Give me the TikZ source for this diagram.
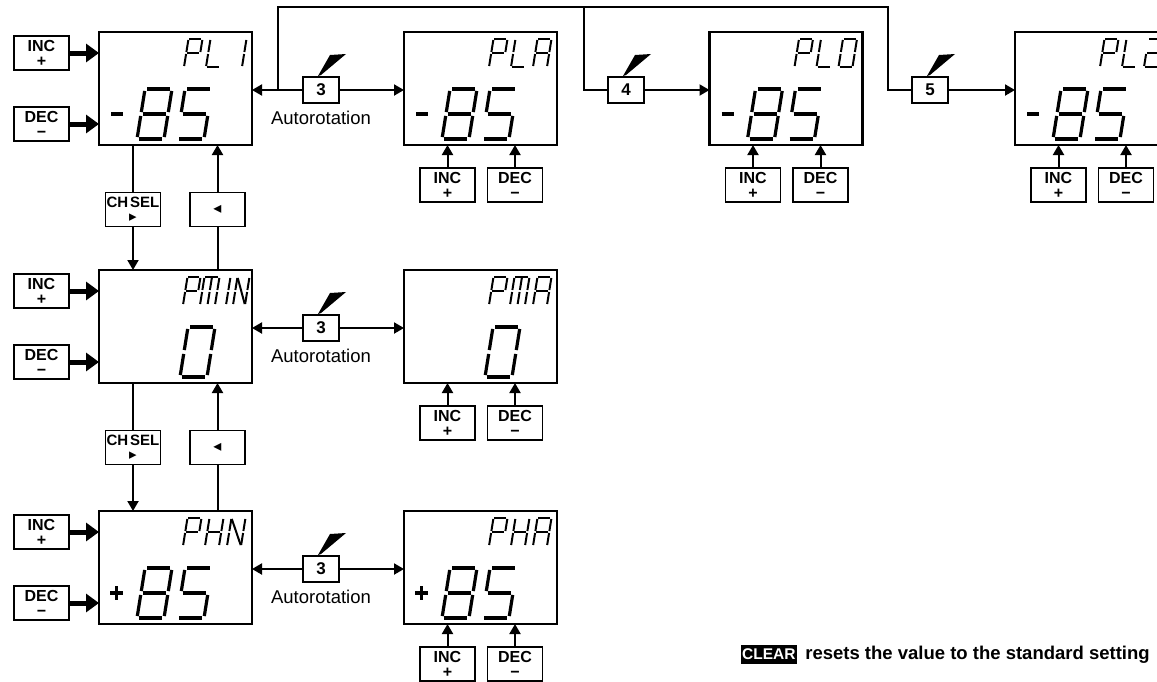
\documentclass[tikz,border=0pt]{standalone}
\usepackage{fontspec}
\setmainfont{Liberation Sans}
\newfontfamily\symfont{DejaVu Sans}
\usetikzlibrary{calc,arrows.meta,positioning}

% seven segment glyphs as lists of segment ends
\def\chEight{tl/tr,tr/mr,mr/br,bl/br,ml/bl,tl/ml,ml/mr}
\def\chFive{tl/tr,tl/ml,ml/mr,mr/br,bl/br}
\def\chZero{tl/tr,tr/mr,mr/br,bl/br,ml/bl,tl/ml}
\def\chOne{tr/mr,mr/br}
\def\chTwo{tl/tr,tr/mr,ml/mr,ml/bl,bl/br}
\def\chP{tl/tr,tr/mr,ml/mr,tl/ml,ml/bl}
\def\chL{tl/ml,ml/bl,bl/br}
\def\chA{tl/tr,tr/mr,mr/br,ml/mr,tl/ml,ml/bl}
\def\chH{tr/mr,mr/br,ml/mr,tl/ml,ml/bl}
\def\chM{tl/tr,tr/mr,mr/br,tl/ml,ml/bl,tm/mm,mm/bm}
\def\chI{tm/mm,mm/bm}
\def\chN{tl/ml,ml/bl,tr/mr,mr/br,tl/br}

\newcommand\segch[5]{% style, bottom left, width, height, segments
  \begin{scope}[shift={#2}, xslant=0.16]
    \coordinate (tl) at (0,-#4);   \coordinate (tm) at (#3/2,-#4);   \coordinate (tr) at (#3,-#4);
    \coordinate (ml) at (0,-#4/2); \coordinate (mm) at (#3/2,-#4/2); \coordinate (mr) at (#3,-#4/2);
    \coordinate (bl) at (0,0);     \coordinate (bm) at (#3/2,0);     \coordinate (br) at (#3,0);
    \edef\seglist{#5}
    \foreach \p/\q in \seglist {\draw[#1] (\p) -- (\q);}
  \end{scope}}
\newcommand\lcdtitle[2]{%
  \foreach \xx/\ww/\cc in {#2} {\segch{smallseg}{($(#1.north west)+(\xx,35)$)}{\ww}{28}{\cc}}}
\newcommand\lcdvalue[2]{%
  \foreach \xx/\cc in {#2} {\segch{bigseg}{($(#1.north west)+(\xx,107)$)}{27}{50}{\cc}}}
\newcommand\pen[1]{%
  \fill ($(#1.north)+(-3,-1)$) -- ++(12,-21) -- ++(16,-1) -- ($(#1.north)+(0,-2)$) -- cycle;}

\begin{document}
\begin{tikzpicture}[x=1pt,y=-1pt,
  lcd/.style={draw, line width=2.2pt, minimum width=153pt, minimum height=113pt, inner sep=0pt, outer sep=0pt},
  btn/.style={draw, line width=1.1pt, fill=white, minimum width=55pt, minimum height=34pt, inner sep=0pt,
    outer sep=0pt, align=center, font=\bfseries\fontsize{16}{15}\selectfont},
  keybox/.style={draw, line width=2.4pt, fill=white, minimum width=36pt, minimum height=26pt, inner sep=0pt,
    outer sep=0pt, font=\bfseries\fontsize{17}{17}\selectfont},
  conn/.style={line width=2pt},
  arr/.style={conn, -{Triangle[length=10pt,width=11pt]}},
  fatarr/.style={line width=5pt, -{Triangle[length=13pt,width=18pt]}},
  bigseg/.style={line width=3.2pt, shorten <=2pt, shorten >=2pt},
  smallseg/.style={line width=2pt, shorten <=1pt, shorten >=1pt},
  signseg/.style={line width=3.6pt}]
\useasboundingbox (0,0) rectangle (1157,681);
\clip (0,0) rectangle (1157,681);

% displays
\node[lcd] (pl1)  at (175.5,88.5) {};
\node[lcd] (pla)  at (480.5,88.5) {};
\node[lcd] (plo)  at (786,88.5) {};
\node[lcd] (pl2)  at (1091.5,88.5) {};
\node[lcd] (pmin) at (175.5,326.5) {};
\node[lcd] (pma)  at (480.5,326.5) {};
\node[lcd] (phn)  at (175.5,567.5) {};
\node[lcd] (pha)  at (480.5,567.5) {};

\lcdtitle{pl1}{85/14/\chP,107/14/\chL,129/14/\chOne}
\lcdtitle{pla}{85/14/\chP,107/14/\chL,129/14/\chA}
\lcdtitle{plo}{85/14/\chP,107/14/\chL,129/14/\chZero}
\lcdtitle{pl2}{85/14/\chP,107/14/\chL,129/14/\chTwo}
\lcdtitle{pmin}{84/13/\chP,101/15/\chM,127/0/\chI,134/12/\chN}
\lcdtitle{pma}{85/14/\chP,106/15/\chM,129/14/\chA}
\lcdtitle{phn}{84/14/\chP,106/14/\chH,128/14/\chN}
\lcdtitle{pha}{85/14/\chP,107/14/\chH,129/14/\chA}

\foreach \d in {pl1,pla,plo,pl2,phn,pha} {\lcdvalue{\d}{38/\chEight,78/\chFive}}
\foreach \d in {pmin,pma} {\lcdvalue{\d}{81/\chZero}}
\foreach \d in {pl1,pla,plo,pl2} \draw[signseg] ($(\d.north west)+(12,82)$) -- ++(12,0);
\foreach \d in {phn,pha} {
  \draw[signseg] ($(\d.north west)+(11,82)$) -- ++(13,0);
  \draw[signseg] ($(\d.north west)+(17.5,75)$) -- ++(0,14);
}

% INC / DEC keys
\foreach \d in {pl1,pmin,phn} {
  \node[btn] (\d inc) at ($(\d.north west)+(-57.5,21)$) {INC\\+};
  \node[btn] (\d dec) at ($(\d.north west)+(-57.5,92)$) {DEC\\−};
  \draw[fatarr] (\d inc) -- (\d inc -| \d.west);
  \draw[fatarr] (\d dec) -- (\d dec -| \d.west);
}
\foreach \d in {pla,plo,pl2,pma,pha} {
  \node[btn] (\d inc) at ($(\d.south west)+(43.5,40)$) {INC\\+};
  \node[btn] (\d dec) at ($(\d.south west)+(111,40)$) {DEC\\−};
  \draw[arr] (\d inc) -- (\d inc |- \d.south);
  \draw[arr] (\d dec) -- (\d dec |- \d.south);
}

% channel select
\foreach \a/\b/\n in {pl1/pmin/1,pmin/phn/2} {
  \node[btn, font=\bfseries\fontsize{15}{14}\selectfont] (chsel\n) at ($(\a.south west)+(34,64.5)$) {CH\hspace{2pt}SEL\\{\symfont ▸}};
  \node[btn] (back\n) at ($(\a.south west)+(118.5,64.5)$) {\symfont ◂};
  \draw[conn] (chsel\n) -- (chsel\n |- \a.south);
  \draw[arr] (chsel\n) -- (chsel\n |- \b.north);
  \draw[conn] (back\n) -- (back\n |- \b.north);
  \draw[arr] (back\n) -- (back\n |- \a.south);
}

% keys 3, 4, 5
\node[keybox] (k1) at (321,90) {3};
\node[keybox] (k2) at (321,328) {3};
\node[keybox] (k3) at (321,569) {3};
\node[keybox] (k4) at (626,90) {4};
\node[keybox] (k5) at (930,90) {5};
\foreach \k in {k1,k2,k3,k4,k5} {\pen{\k}}
\foreach \k/\a/\b in {k1/pl1/pla,k2/pmin/pma,k3/phn/pha} {
  \node[below=5pt of \k, font=\fontsize{18.5}{18}\selectfont] (\k auto) {Autorotation};
  \draw[arr] (\k) -- (\k -| \a.east);
  \draw[arr] (\k) -- (\k -| \b.west);
}
\coordinate (j1) at ($(k1.west)+(-25,0)$);
\coordinate (toprun) at ($(j1)+(0,-83)$);
\coordinate (bend4) at ($(k4.west)+(-24,0)$);
\coordinate (bend5) at ($(k5.west)+(-24,0)$);
\draw[conn] (j1) -- (toprun) -| (bend5) -- (k5);
\draw[conn] (bend4 |- toprun) -- (bend4) -- (k4);
\draw[arr] (k4) -- (k4 -| plo.west);
\draw[arr] (k5) -- (k5 -| pl2.west);

\node[fill=black, text=white, inner xsep=1pt, inner ysep=4pt, anchor=west,
  font=\bfseries\fontsize{15.5}{15}\selectfont] (clearkey) at (741,654.5) {CLEAR};
\node[right=5pt of clearkey, font=\bfseries\fontsize{18.5}{18}\selectfont] (cleartxt) {resets the value to the standard setting};
\end{tikzpicture}
\end{document}
